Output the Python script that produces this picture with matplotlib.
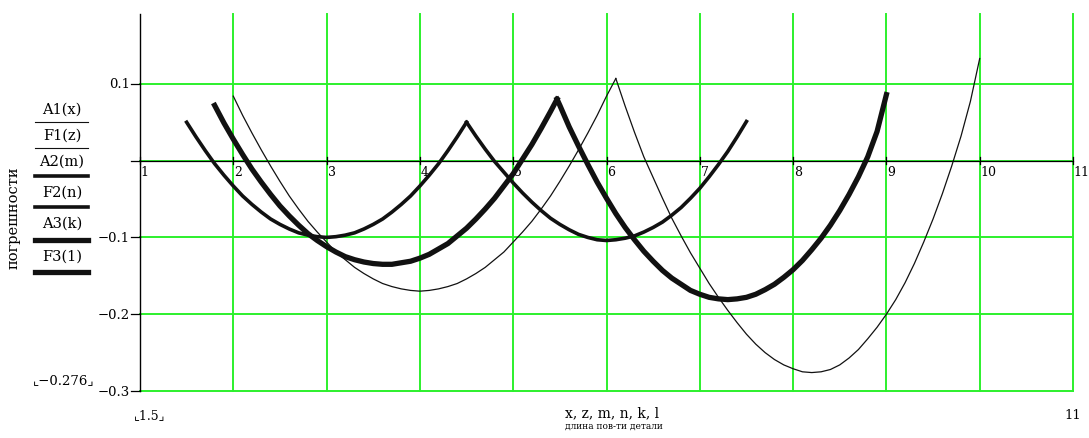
import matplotlib
matplotlib.use("Agg")
import matplotlib.pyplot as plt

plt.rcParams["font.family"] = ["DejaVu Serif", "DejaVu Sans"]
plt.rcParams["axes.unicode_minus"] = False

W, H = 1089, 439

# A1(x) - thin line
a1_x = [2.0, 2.1, 2.2, 2.3, 2.4, 2.5, 2.6, 2.7, 2.8, 2.9, 3.0, 3.1, 3.2, 3.3, 3.4, 3.5, 3.6, 3.7, 3.8, 3.9,
        4.0, 4.1, 4.2, 4.3, 4.4, 4.5, 4.6, 4.7, 4.8, 4.9, 5.0, 5.1, 5.2, 5.3, 5.4, 5.5, 5.6, 5.7, 5.8, 5.9,
        6.0, 6.1]
a1_y = [0.084, 0.059, 0.036, 0.014, -0.007, -0.027, -0.046, -0.063, -0.079, -0.093, -0.106, -0.119, -0.129,
        -0.139, -0.147, -0.154, -0.160, -0.164, -0.167, -0.169, -0.170, -0.169, -0.167, -0.164, -0.160,
        -0.154, -0.147, -0.139, -0.129, -0.119, -0.106, -0.093, -0.079, -0.063, -0.046, -0.027, -0.007,
        0.014, 0.036, 0.059, 0.084, 0.107]

# F1(z) - thin line
f1_x = [6.1, 6.2, 6.3, 6.4, 6.5, 6.6, 6.7, 6.8, 6.9, 7.0, 7.1, 7.2, 7.3, 7.4, 7.5, 7.6, 7.7, 7.8, 7.9,
        8.0, 8.1, 8.2, 8.3, 8.4, 8.5, 8.6, 8.7, 8.8, 8.9, 9.0, 9.1, 9.2, 9.3, 9.4, 9.5, 9.6, 9.7, 9.8, 9.9,
        10.0]
f1_y = [0.107, 0.071, 0.037, 0.005, -0.022, -0.049, -0.075, -0.098, -0.120, -0.140, -0.160, -0.178, -0.195,
        -0.211, -0.226, -0.239, -0.250, -0.259, -0.266, -0.271, -0.275, -0.276, -0.275, -0.272, -0.266,
        -0.257, -0.246, -0.232, -0.217, -0.200, -0.181, -0.159, -0.134, -0.106, -0.076, -0.043, -0.007,
        0.032, 0.077, 0.133]

# A2(m) - medium line
a2_x = [1.5, 1.6, 1.7, 1.8, 1.9, 2.0, 2.1, 2.2, 2.3, 2.4, 2.5, 2.6, 2.7, 2.8, 2.9, 3.0, 3.1, 3.2, 3.3,
        3.4, 3.5, 3.6, 3.7, 3.8, 3.9, 4.0, 4.1, 4.2, 4.3, 4.4, 4.5]
a2_y = [0.050, 0.031, 0.013, -0.004, -0.019, -0.033, -0.046, -0.057, -0.067, -0.076, -0.083, -0.089, -0.094,
        -0.097, -0.099, -0.100, -0.099, -0.097, -0.094, -0.089, -0.083, -0.076, -0.067, -0.057, -0.046,
        -0.033, -0.019, -0.004, 0.013, 0.031, 0.050]

# F2(n) - medium line
f2_x = [4.5, 4.6, 4.7, 4.8, 4.9, 5.0, 5.1, 5.2, 5.3, 5.4, 5.5, 5.6, 5.7, 5.8, 5.9, 6.0, 6.1, 6.2, 6.3,
        6.4, 6.5, 6.6, 6.7, 6.8, 6.9, 7.0, 7.1, 7.2, 7.3, 7.4, 7.5]
f2_y = [0.050, 0.032, 0.015, -0.001, -0.015, -0.029, -0.042, -0.054, -0.065, -0.075, -0.083, -0.090, -0.096,
        -0.100, -0.103, -0.104, -0.103, -0.101, -0.098, -0.093, -0.087, -0.080, -0.071, -0.061, -0.049,
        -0.036, -0.021, -0.005, 0.012, 0.031, 0.051]

# A3(k) - thick line
a3_x = [1.8, 1.9, 2.0, 2.1, 2.2, 2.3, 2.4, 2.5, 2.6, 2.7, 2.8, 2.9, 3.0, 3.1, 3.2, 3.3, 3.4, 3.5, 3.6,
        3.7, 3.8, 3.9, 4.0, 4.1, 4.2, 4.3, 4.4, 4.5, 4.6, 4.7, 4.8, 4.9, 5.0, 5.1, 5.2, 5.3, 5.4, 5.47]
a3_y = [0.072, 0.049, 0.028, 0.008, -0.011, -0.028, -0.044, -0.059, -0.072, -0.084, -0.095, -0.104, -0.112,
        -0.119, -0.125, -0.129, -0.132, -0.134, -0.135, -0.135, -0.133, -0.131, -0.127, -0.122, -0.115,
        -0.108, -0.098, -0.088, -0.076, -0.063, -0.049, -0.033, -0.017, 0.002, 0.021, 0.042, 0.064, 0.080]

# F3(l) - thick line
f3_x = [5.47, 5.5, 5.6, 5.7, 5.8, 5.9, 6.0, 6.1, 6.2, 6.3, 6.4, 6.5, 6.6, 6.7, 6.8, 6.9, 7.0, 7.1, 7.2,
        7.3, 7.4, 7.5, 7.6, 7.7, 7.8, 7.9, 8.0, 8.1, 8.2, 8.3, 8.4, 8.5, 8.6, 8.7, 8.8, 8.9, 9.0]
f3_y = [0.080, 0.072, 0.044, 0.019, -0.005, -0.028, -0.049, -0.069, -0.087, -0.103, -0.118, -0.131, -0.143,
        -0.153, -0.161, -0.169, -0.174, -0.178, -0.180, -0.181, -0.180, -0.178, -0.174, -0.168, -0.161,
        -0.152, -0.142, -0.130, -0.116, -0.101, -0.084, -0.065, -0.044, -0.021, 0.005, 0.038, 0.086]

x_ticks = [1, 2, 3, 4, 5, 6, 7, 8, 9, 10, 11]
y_ticks = [0.1, 0, -0.1, -0.2, -0.3]
y_tick_labels = ["0.1", "", "\u22120.1", "\u22120.2", "\u22120.3"]
legend_names = ["A1(x)", "F1(z)", "A2(m)", "F2(n)", "A3(k)", "F3(1)"]
legend_widths = [0.8, 0.8, 2.6, 2.6, 3.8, 3.8]

GREEN = "#2cf02c"


def fx(px):
    return px / W


def fy(py):
    return 1 - py / H


fig = plt.figure(figsize=(W / 100, H / 100), dpi=100)
ax = fig.add_axes([fx(140), fy(392), (1073 - 140) / W, (392 - 15) / H])
ax.set_xlim(1, 11)
ax.set_ylim(-0.3, 0.191)
ax.axis("off")

# grid
for xv in x_ticks[1:]:
    ax.plot([xv, xv], [-0.3, 0.191], color=GREEN, lw=1.4, clip_on=False, zorder=1)
for yv in y_ticks:
    ax.plot([1, 11], [yv, yv], color=GREEN, lw=1.4, clip_on=False, zorder=1)

# axes lines
ax.plot([1, 1], [-0.3, 0.191], color="black", lw=1.0, clip_on=False, zorder=2)
ax.plot([1, 11], [0, 0], color="black", lw=0.9, clip_on=False, zorder=2)

# ticks on the x axis (crossing at y=0)
for xv in x_ticks:
    ax.plot([xv, xv], [-0.005, 0.005], color="black", lw=0.9, clip_on=False, zorder=3)
    ax.text(xv + 0.01, -0.014, str(xv), ha="left", va="center", fontsize=9, zorder=3)

# ticks on the y axis
for yv, lab in zip(y_ticks, y_tick_labels):
    ax.plot([0.9, 1.0], [yv, yv], color="black", lw=0.9, clip_on=False, zorder=3)
    if lab:
        ax.text(0.89, yv, lab, ha="right", va="center", fontsize=9.5, zorder=3)

# curves
ax.plot(a1_x, a1_y, color="#111111", lw=0.9, zorder=4)
ax.plot(f1_x, f1_y, color="#111111", lw=0.9, zorder=4)
ax.plot(a2_x, a2_y, color="#111111", lw=2.6, zorder=4)
ax.plot(f2_x, f2_y, color="#111111", lw=2.6, zorder=4)
ax.plot(a3_x, a3_y, color="#111111", lw=3.8, zorder=4)
ax.plot(f3_x, f3_y, color="#111111", lw=3.8, zorder=4)

# legend column on the left
text_y = [110, 136, 162, 193, 224, 257]
line_y = [123, 149, 177, 208, 241, 273]
for name, ty, ly, lw in zip(legend_names, text_y, line_y, legend_widths):
    fig.text(fx(62), fy(ty), name, ha="center", va="center", fontsize=10.5)
    fig.lines.append(plt.Line2D([fx(35), fx(88)], [fy(ly), fy(ly)], transform=fig.transFigure,
                                color="#111111", lw=lw))

fig.text(fx(14), fy(218), "погрешности", rotation=90, ha="center", va="center", fontsize=10.5)

# limit markers and axis titles
fig.text(fx(64), fy(381), "\u231e\u22120.276\u231f", ha="center", va="center", fontsize=9.5,
         family=["DejaVu Serif", "DejaVu Sans"])
fig.text(fx(150), fy(416), "\u231e1.5\u231f", ha="center", va="center", fontsize=9,
         family=["DejaVu Serif", "DejaVu Sans"])
fig.text(fx(1073), fy(416), "11", ha="center", va="center", fontsize=9.5)
fig.text(fx(612), fy(413), "x, z, m, n, k, l", ha="center", va="center", fontsize=10)
fig.text(fx(614), fy(426), "длина пов-ти детали", ha="center", va="center", fontsize=6.5)

fig.savefig("out.png", dpi=100)
